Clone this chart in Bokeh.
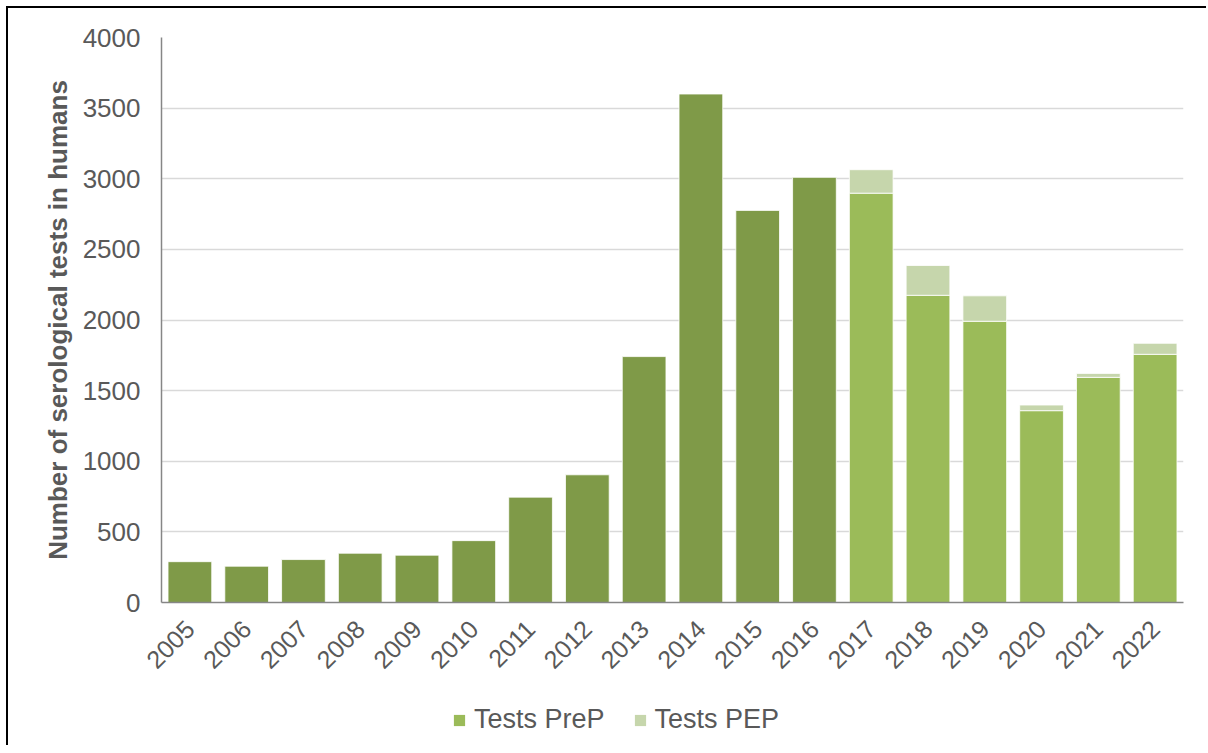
import math
from bokeh.plotting import figure
from bokeh.layouts import column
from bokeh.models import (ColumnDataSource, Range1d, SingleIntervalTicker, Legend, LegendItem)
from bokeh.embed import file_html
from bokeh.resources import INLINE

# ---- data ----
years = [str(y) for y in range(2005, 2023)]
years_early = [str(y) for y in range(2005, 2017)]
tests_early = [289, 257, 304, 349, 335, 438, 746, 904, 1741, 3600, 2776, 3010]
years_late = [str(y) for y in range(2017, 2023)]
tests_prep = [2898, 2175, 1991, 1358, 1594, 1757]
tests_pep = [166, 211, 180, 40, 28, 78]
legend_labels = ["Tests PreP", "Tests PEP"]

FONT = "Liberation Sans"
TXT = "#595959"
C_EARLY, C_PREP, C_PEP = "#7F9A48", "#9BBB59", "#C6D6AC"
WIDTH = 1200

p = figure(x_range=years, y_range=Range1d(0, 4000),
           width=WIDTH, height=680, output_backend="svg", toolbar_location=None,
           min_border_left=153, min_border_right=WIDTH - 153 - 1022,
           min_border_top=29, min_border_bottom=86)

src_early = ColumnDataSource(dict(x=years_early, top=tests_early))
late_top = [a + b for a, b in zip(tests_prep, tests_pep)]
src_late = ColumnDataSource(dict(x=years_late, prep=tests_prep, total=late_top))

W = 0.77
p.vbar(x="x", top="top", width=W, source=src_early, fill_color=C_EARLY,
       line_color="white", line_width=0.8)
p.vbar(x="x", top="prep", width=W, source=src_late, fill_color=C_PREP,
       line_color="white", line_width=0.8)
p.vbar(x="x", bottom="prep", top="total", width=W, source=src_late,
       fill_color=C_PEP, line_color="white", line_width=0.8)

# axes
p.yaxis.ticker = SingleIntervalTicker(interval=500)
for ax in (p.xaxis[0], p.yaxis[0]):
    ax.axis_line_color = "#868686"
    ax.axis_line_width = 1.5
    ax.major_tick_line_color = None
    ax.minor_tick_line_color = None
    ax.major_label_text_font = FONT
    ax.major_label_text_color = TXT
p.xaxis.major_label_text_font_size = "25px"
p.yaxis.major_label_text_font_size = "26px"
p.yaxis.major_label_standoff = 15
p.xaxis.major_label_orientation = math.pi / 4
p.xaxis.major_label_standoff = 16
p.yaxis.axis_label = "Number of serological tests in humans"
p.yaxis.axis_label_text_font = FONT
p.yaxis.axis_label_text_font_style = "bold"
p.yaxis.axis_label_text_font_size = "26px"
p.yaxis.axis_label_text_color = TXT
p.yaxis.axis_label_standoff = 7

p.xgrid.grid_line_color = None
p.ygrid.grid_line_color = "#D9D9D9"
p.ygrid.grid_line_width = 1.5
p.outline_line_color = None
p.background_fill_color = "white"
p.border_fill_color = "white"

# ---- legend strip (frames aligned with the main plot); its bars have zero width ----
lg = figure(width=WIDTH, height=59, output_backend="svg", toolbar_location=None,
            x_range=years, y_range=Range1d(-20000, -10000),
            min_border_left=0, min_border_right=0, min_border_top=0, min_border_bottom=0)
lg.axis.visible = False
lg.grid.visible = False
lg.outline_line_color = None
lg.border_fill_color = "white"
r1 = lg.vbar(x="x", top="prep", width=0, source=src_late, fill_color=C_PREP, line_color=None)
r2 = lg.vbar(x="x", bottom="prep", top="total", width=0, source=src_late,
             fill_color=C_PEP, line_color=None)
legend = Legend(items=[LegendItem(label=legend_labels[0], renderers=[r1]),
                       LegendItem(label=legend_labels[1], renderers=[r2])],
                orientation="horizontal", location=(291, 12),
                glyph_width=14, glyph_height=14, label_standoff=8, spacing=28,
                padding=0, margin=0, border_line_color=None, background_fill_alpha=0,
                label_text_font=FONT, label_text_font_size="27px", label_text_color=TXT)
lg.add_layout(legend, "center")

layout = column(p, lg, spacing=0)
layout.styles = {"margin-left": "8px", "margin-top": "8px",
                 "box-shadow": "-2px -2px 0 0 #000000"}

open("out.html", "w").write(file_html(layout, INLINE))
